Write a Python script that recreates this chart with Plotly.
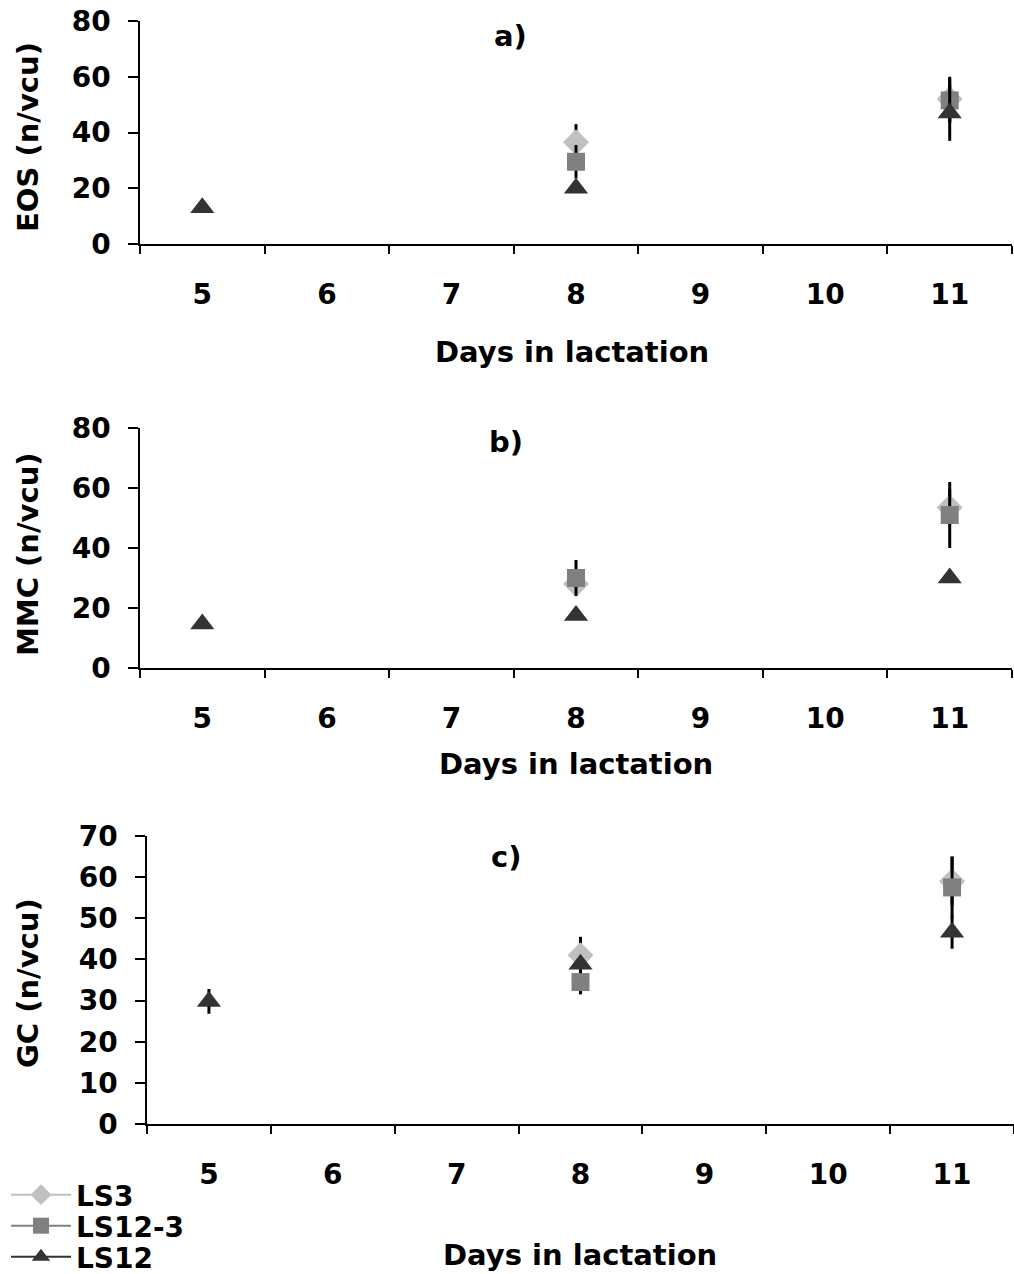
import plotly.graph_objects as go

days = ["5", "6", "7", "8", "9", "10", "11"]

# Panel a) EOS
eos_ls3 = [None, None, None, 36.5, None, None, 52.0]
eos_ls3_err = [0, 0, 0, 6.5, 0, 0, 8.0]
eos_ls123 = [None, None, None, 29.5, None, None, 51.5]
eos_ls123_err = [0, 0, 0, 6.0, 0, 0, 8.0]
eos_ls12 = [13.0, None, None, 20.0, None, None, 47.0]
eos_ls12_err = [1.0, 0, 0, 1.5, 0, 0, 10.0]

# Panel b) MMC
mmc_ls3 = [None, None, None, 28.0, None, None, 53.5]
mmc_ls3_err = [0, 0, 0, 3.0, 0, 0, 6.0]
mmc_ls123 = [None, None, None, 30.0, None, None, 51.0]
mmc_ls123_err = [0, 0, 0, 6.0, 0, 0, 11.0]
mmc_ls12 = [14.7, None, None, 17.5, None, None, 30.0]
mmc_ls12_err = [1.0, 0, 0, 1.5, 0, 0, 1.5]

# Panel c) GC
gc_ls3 = [None, None, None, 41.0, None, None, 59.0]
gc_ls3_err = [0, 0, 0, 4.5, 0, 0, 6.0]
gc_ls123 = [None, None, None, 34.5, None, None, 57.5]
gc_ls123_err = [0, 0, 0, 3.0, 0, 0, 7.5]
gc_ls12 = [29.8, None, None, 38.8, None, None, 46.6]
gc_ls12_err = [3.0, 0, 0, 2.0, 0, 0, 4.0]

series_names = ["LS3", "LS12-3", "LS12"]
colors = ["#c0c0c0", "#808080", "#333333"]
symbols = ["diamond", "square", "triangle-up"]
sizes = [20, 18, 21]

panels = [
    ([eos_ls3, eos_ls123, eos_ls12], [eos_ls3_err, eos_ls123_err, eos_ls12_err]),
    ([mmc_ls3, mmc_ls123, mmc_ls12], [mmc_ls3_err, mmc_ls123_err, mmc_ls12_err]),
    ([gc_ls3, gc_ls123, gc_ls12], [gc_ls3_err, gc_ls123_err, gc_ls12_err]),
]

W, H = 1014, 1274
FONT = "DejaVu Sans"

def py(px):
    return 1 - px / H

def pxx(px):
    return px / W

domains = [
    ([pxx(140), pxx(1012)], [py(244), py(21)]),
    ([pxx(140), pxx(1012)], [py(668), py(428)]),
    ([pxx(147), 1.0], [py(1124), py(836)]),
]
yranges = [[0, 80], [0, 80], [0, 70]]
ydticks = [20, 20, 10]
legend_names = ["legend", "legend2", "legend3"]
legend_centers = [1195, 1226, 1257]

fig = go.Figure()

for p, (vals, errs) in enumerate(panels):
    xa = "x" if p == 0 else f"x{p+1}"
    ya = "y" if p == 0 else f"y{p+1}"
    for i in range(3):
        fig.add_trace(go.Scatter(
            x=days, y=vals[i], xaxis=xa, yaxis=ya,
            mode="lines+markers", connectgaps=False,
            name=series_names[i], showlegend=(p == 2),
            legend=legend_names[i],
            line=dict(color=colors[i], width=2),
            marker=dict(symbol=symbols[i], size=sizes[i], color=colors[i],
                        line=dict(width=0)),
            error_y=dict(type="data", array=errs[i], visible=True,
                         color="black", thickness=3, width=0),
        ))

tickfont = dict(family=FONT, size=28, color="black", weight="bold")
layout = dict(
    width=W, height=H,
    margin=dict(l=0, r=0, t=0, b=0, autoexpand=False),
    paper_bgcolor="white", plot_bgcolor="white",
    font=dict(family=FONT, size=28, color="black", weight="bold"),
    showlegend=True,
)
for i, ln in enumerate(legend_names):
    layout[ln] = dict(x=pxx(6), y=py(legend_centers[i]), xanchor="left",
                      yanchor="middle",
                      font=dict(family=FONT, size=28, color="black", weight="bold"),
                      bgcolor="rgba(0,0,0,0)", itemwidth=60, borderwidth=0)
for p in range(3):
    sx = "" if p == 0 else str(p + 1)
    layout["xaxis" + sx] = dict(
        domain=domains[p][0], anchor="y" + sx, type="category",
        categoryorder="array", categoryarray=days, range=[-0.5, 6.5],
        tickson="boundaries", ticks="outside", ticklen=8, tickwidth=1.5,
        tickcolor="black", showline=True, linecolor="black", linewidth=1.5,
        showgrid=False, zeroline=False, tickfont=tickfont,
        ticklabelstandoff=25, automargin=False,
    )
    layout["yaxis" + sx] = dict(
        domain=domains[p][1], anchor="x" + sx, range=yranges[p],
        dtick=ydticks[p], tick0=0, ticks="outside", ticklen=10, tickwidth=1.5,
        tickcolor="black", showline=True, linecolor="black", linewidth=1.5,
        showgrid=False, zeroline=False, tickfont=tickfont,
        ticklabelstandoff=12, automargin=False,
    )
fig.update_layout(**layout)

ann_font = dict(family=FONT, size=29, color="black", weight="bold")
annos = [
    ("a)", 510, 36, 0), ("b)", 506, 442, 0), ("c)", 506, 857, 0),
    ("Days in lactation", 572, 352, 0), ("Days in lactation", 576, 764, 0),
    ("Days in lactation", 580, 1255, 0),
    ("EOS (n/vcu)", 28, 137, -90), ("MMC (n/vcu)", 28, 554, -90),
    ("GC (n/vcu)", 28, 983, -90),
]
for text, x, y, ang in annos:
    fig.add_annotation(text=text, x=pxx(x), y=py(y), xref="paper", yref="paper",
                       xanchor="center", yanchor="middle", showarrow=False,
                       textangle=ang, font=ann_font)

fig.write_html("out.html")
